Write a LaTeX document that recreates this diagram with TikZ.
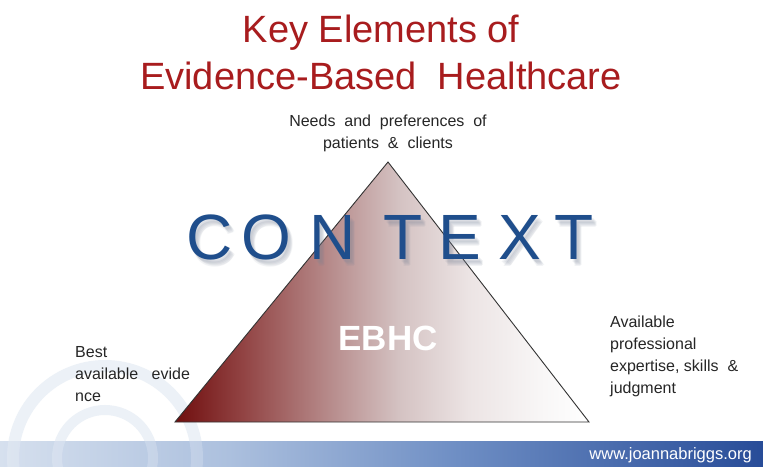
\documentclass[tikz,border=0pt]{standalone}
\usepackage{fontspec}
\setmainfont{Liberation Sans}
\definecolor{titlered}{RGB}{168,28,30}
\definecolor{ctxblue}{RGB}{31,78,140}
\definecolor{ctxshade}{RGB}{120,130,150}
\definecolor{tA}{RGB}{112,14,14}
\definecolor{tB}{RGB}{145,66,66}
\definecolor{tC}{RGB}{182,138,138}
\definecolor{tD}{RGB}{212,194,194}
\definecolor{tE}{RGB}{236,228,228}
\definecolor{tF}{RGB}{248,246,246}
\definecolor{bA}{RGB}{214,224,238}
\definecolor{bB}{RGB}{172,192,222}
\definecolor{bC}{RGB}{110,142,196}
\definecolor{bD}{RGB}{40,76,152}
\definecolor{swirl}{RGB}{236,241,247}
\pgfdeclarehorizontalshading{trishade}{100bp}{color(0bp)=(tA); color(25bp)=(tA); color(33bp)=(tB); color(43.5bp)=(tC); color(52bp)=(tD); color(60.5bp)=(tE); color(69bp)=(tF); color(75bp)=(white); color(100bp)=(white)}
\pgfdeclarehorizontalshading{bandshade}{100bp}{color(0bp)=(bA); color(25bp)=(bA); color(40bp)=(bB); color(55bp)=(bC); color(75bp)=(bD); color(100bp)=(bD)}
\tikzset{
  titletext/.style={text=titlered, inner sep=0, anchor=base, font=\fontsize{38}{44}\selectfont},
  ctxletter/.style={text=ctxblue, inner sep=0, anchor=base, font=\fontsize{64}{72}\selectfont},
  ctxshadow/.style={text=ctxshade, opacity=0.09, inner sep=0, anchor=base, font=\fontsize{64}{72}\selectfont},
  smalltext/.style={text=black!85, inner sep=0, font=\fontsize{16}{22}\selectfont},
}
\begin{document}
\begin{tikzpicture}[x=1pt, y=-1pt]
\useasboundingbox (0,0) rectangle (763,466);
\fill[white] (0,0) rectangle (763,466);
% faint watermark swirl
\begin{scope}
  \clip (0,340) rectangle (250,466);
  \draw[swirl, line width=12] (105,458) circle[radius=92];
  \draw[swirl, line width=10] (105,458) circle[radius=48];
\end{scope}
% bottom band
\shade[shading=bandshade] (0,441) rectangle (763,466);
\begin{scope}
  \clip (0,441) rectangle (250,466);
  \draw[white, opacity=0.2, line width=12] (105,458) circle[radius=92];
  \draw[white, opacity=0.2, line width=10] (105,458) circle[radius=48];
\end{scope}
\node[text=white, inner sep=0, anchor=base east, font=\fontsize{16.5}{20}\selectfont] (url) at (752,459) {www.joannabriggs.org};
% title
\node[titletext] (t1) at (381,42) {Key Elements of};
\node[titletext] (t2) at (381,89) {Evidence-Based\ \ Healthcare};
% triangle
\coordinate (apex) at (388,162);
\coordinate (bl) at (175,422);
\coordinate (br) at (589,422);
\shade[shading=trishade] (apex) -- (bl) -- (br) -- cycle;
\draw[black!80, line width=0.9, line join=miter] (apex) -- (bl) -- (br) -- cycle;
% CONTEXT with soft shadow
\foreach \l/\x [count=\i] in {C/210, O/266, N/333, T/403, E/460, X/520, T/574} {
  \foreach \dx/\dy [count=\j] in {2/3, 3/4, 4/5, 5/6, 4/7} {
    \node[ctxshadow] (cs\i-\j) at (\x+\dx,259+\dy) {\l};
  }
}
\foreach \l/\x [count=\i] in {C/210, O/266, N/333, T/403, E/460, X/520, T/574} {
  \node[ctxletter] (ctx\i) at (\x,259) {\l};
}
% EBHC
\node[text=white, inner sep=0, anchor=base, font=\fontsize{35}{40}\selectfont\bfseries] (ebhc) at (388,350) {EBHC};
% labels
\node[smalltext, anchor=north, align=center] (needs) at (388,114.5) {Needs\ \ and\ \ preferences\ \ of\\patients\ \ \&\ \ clients};
\node[smalltext, anchor=north west, align=left] (best) at (75,346.5) {Best\\available\ \ \ evide\\nce};
\node[smalltext, anchor=north west, align=left] (avail) at (610,315.5) {Available\\professional\\expertise, skills\ \ \&\\judgment};
\end{tikzpicture}
\end{document}
